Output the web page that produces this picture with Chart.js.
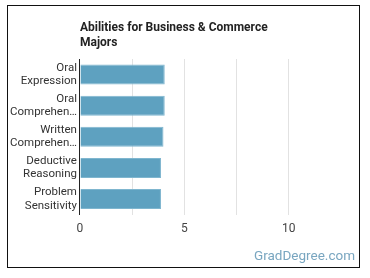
<!DOCTYPE html>
<html>
<head>
<meta charset="utf-8">
<script src="https://cdn.jsdelivr.net/npm/chart.js@4"></script>
<style>
  html, body { margin: 0; padding: 0; background: #fff; }
  #wrap { position: relative; width: 370px; height: 278px; }
  #frame { position: absolute; left: 7px; top: 5px; width: 351px; height: 261px; border: 1.5px solid #111; pointer-events: none; }
  #mark { position: absolute; right: 15px; top: 247px; font: 13.5px Roboto, sans-serif; color: #79a6c0; }
</style>
</head>
<body>
<div id="wrap">
  <canvas id="chart" width="370" height="278"></canvas>
  <div id="frame"></div>
  <div id="mark">GradDegree.com</div>
</div>
<script>
// abilities and their scores
const abilities = [
  ['Oral', 'Expression'],
  ['Oral', 'Comprehen…'],
  ['Written', 'Comprehen…'],
  ['Deductive', 'Reasoning'],
  ['Problem', 'Sensitivity']
];
const scores = [4.06, 4.06, 4.0, 3.88, 3.88];
const xTicks = [0, 5, 10];
const titleLines = ['Abilities for Business & Commerce', 'Majors'];

// title drawn at the left edge of the plot
const titlePlugin = {
  id: 'leftTitle',
  afterDraw(chart) {
    const ctx = chart.ctx;
    ctx.save();
    ctx.font = 'bold 12px Roboto, sans-serif';
    ctx.fillStyle = '#222';
    ctx.textBaseline = 'middle';
    titleLines.forEach((t, i) => ctx.fillText(t, chart.chartArea.left, 28 + i * 15));
    ctx.restore();
  }
};

document.addEventListener('DOMContentLoaded', function () {
  new Chart(document.getElementById('chart'), {
    type: 'bar',
    data: {
      labels: abilities,
      datasets: [{
        data: scores,
        backgroundColor: '#5ea1c0',
        borderColor: '#7fb6cf',
        borderWidth: 1,
        barPercentage: 0.64,
        categoryPercentage: 1
      }]
    },
    options: {
      indexAxis: 'y',
      responsive: false,
      animation: false,
      layout: { padding: { top: 59, right: 29, bottom: 35, left: 7 } },
      plugins: { legend: { display: false }, tooltip: { enabled: false } },
      scales: {
        x: {
          min: 0,
          max: 12.5,
          afterBuildTicks(axis) {
            axis.ticks = [0, 2.5, 5, 7.5, 10].map(v => ({ value: v }));
          },
          ticks: {
            color: '#444',
            font: { family: 'Roboto', size: 12 },
            padding: 7,
            callback: v => xTicks.includes(v) ? String(v) : ''
          },
          grid: { color: '#e2e2e2', drawTicks: false },
          border: { display: false }
        },
        y: {
          ticks: {
            color: '#333',
            font: { family: 'Roboto', size: 11.5, lineHeight: 1.15 },
            padding: 3
          },
          grid: { display: false, drawTicks: false },
          border: { display: true, color: '#222', width: 1 }
        }
      }
    },
    plugins: [titlePlugin]
  });
});
</script>
</body>
</html>
